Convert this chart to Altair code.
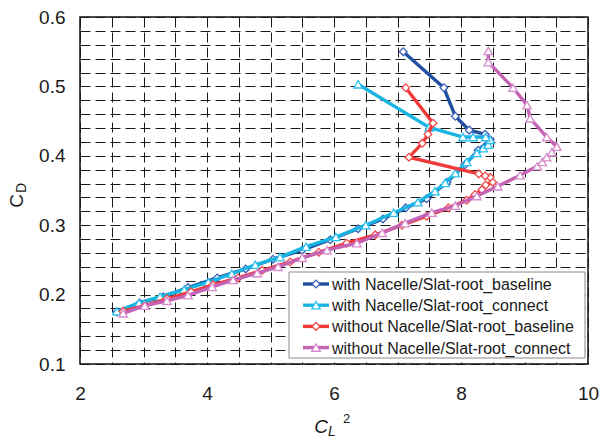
import altair as alt
import pandas as pd

series_names = [
    "with Nacelle/Slat-root_baseline",
    "with Nacelle/Slat-root_connect",
    "without Nacelle/Slat-root_baseline",
    "without Nacelle/Slat-root_connect",
]

blue_x = [2.58, 2.94, 3.31, 3.70, 4.16, 4.61, 5.04, 5.50, 5.94, 6.38, 6.77, 7.13, 7.46, 7.78, 8.06, 8.27, 8.46, 8.38, 8.13, 7.91, 7.73, 7.09]
blue_y = [0.175, 0.188, 0.197, 0.210, 0.224, 0.237, 0.251, 0.264, 0.279, 0.295, 0.309, 0.325, 0.338, 0.362, 0.387, 0.408, 0.423, 0.431, 0.437, 0.457, 0.498, 0.550]

cyan_x = [2.58, 2.93, 3.26, 3.64, 4.02, 4.39, 4.76, 5.15, 5.56, 6.03, 6.50, 6.94, 7.32, 7.59, 7.75, 7.91, 8.09, 8.25, 8.35, 8.43, 8.46, 8.39, 8.19, 8.03, 7.50, 6.38]
cyan_y = [0.176, 0.188, 0.197, 0.207, 0.218, 0.230, 0.243, 0.254, 0.269, 0.283, 0.300, 0.318, 0.333, 0.349, 0.361, 0.375, 0.391, 0.404, 0.411, 0.416, 0.423, 0.427, 0.427, 0.427, 0.441, 0.503]

red_x = [2.68, 3.02, 3.37, 3.75, 4.09, 4.49, 4.87, 5.31, 5.76, 6.20, 6.65, 7.07, 7.46, 7.80, 8.09, 8.22, 8.33, 8.39, 8.50, 8.46, 8.38, 8.28, 7.18, 7.39, 7.48, 7.56, 7.13]
red_y = [0.176, 0.184, 0.194, 0.204, 0.214, 0.224, 0.235, 0.247, 0.261, 0.274, 0.286, 0.300, 0.313, 0.325, 0.336, 0.344, 0.351, 0.358, 0.362, 0.369, 0.371, 0.374, 0.398, 0.418, 0.431, 0.447, 0.498]

mag_x = [2.68, 3.02, 3.37, 3.70, 4.08, 4.41, 4.79, 5.12, 5.50, 5.89, 6.36, 6.76, 7.12, 7.54, 7.91, 8.25, 8.58, 8.93, 9.20, 9.28, 9.35, 9.43, 9.51, 9.35, 9.09, 9.04, 8.82, 8.43, 8.43]
mag_y = [0.173, 0.184, 0.191, 0.199, 0.211, 0.221, 0.231, 0.240, 0.253, 0.264, 0.274, 0.289, 0.303, 0.318, 0.328, 0.342, 0.356, 0.372, 0.385, 0.391, 0.398, 0.405, 0.413, 0.427, 0.454, 0.473, 0.498, 0.535, 0.551]

xs = [blue_x, cyan_x, red_x, mag_x]
ys = [blue_y, cyan_y, red_y, mag_y]

line_colors = ["#2251a0", "#1ab4e2", "#f03a3a", "#c462b4"]
marker_colors = ["#3a60b8", "#2cc0ec", "#f24a4a", "#d68ccc"]
shapes = ["diamond", "triangle-up", "diamond", "triangle-up"]
sizes = [60, 72, 60, 72]

x_ticks = [2 + 0.5 * i for i in range(17)]
y_ticks = [round(0.1 + 0.02 * i, 2) for i in range(26)]

FONT = "Liberation Sans"
L, T = 80, 17  # plot origin offset (padding)

axis_common = dict(
    grid=True, gridDash=[10, 5], gridColor="#1a1a1a", gridWidth=1, gridOpacity=1,
    domain=False, ticks=False, tickSize=0, labelFont=FONT, labelFontSize=19,
    labelColor="#1a1a1a", title=None, labelFlush=False, labelOverlap=False,
)
X = alt.X("x:Q", scale=alt.Scale(domain=[2, 10], nice=False, zero=False),
          axis=alt.Axis(values=x_ticks,
                        labelExpr="datum.value % 2 === 0 ? format(datum.value, 'd') : ''",
                        labelPadding=20, **axis_common))
Y = alt.Y("y:Q", scale=alt.Scale(domain=[0.1, 0.6], nice=False, zero=False),
          axis=alt.Axis(values=y_ticks,
                        labelExpr="abs(datum.value*10 - round(datum.value*10)) < 0.001 ? format(datum.value, '.1f') : ''",
                        labelPadding=15, **axis_common))

layers = []
for k in range(4):
    df = pd.DataFrame({"x": xs[k], "y": ys[k], "i": list(range(len(xs[k])))})
    base = alt.Chart(df).encode(x=X, y=Y, order="i:Q")
    layers.append(base.mark_line(color=line_colors[k], strokeWidth=3.4))
    layers.append(base.mark_point(shape=shapes[k], filled=True, fill="white", stroke=marker_colors[k],
                                  strokeWidth=1.3, size=sizes[k], opacity=1))

one = pd.DataFrame({"a": [0]})

# legend box
layers.append(alt.Chart(one).mark_rect(fill="white", stroke="#8a8a8a", strokeWidth=1).encode(
    x=alt.value(289 - L), x2=alt.value(585 - L), y=alt.value(272 - T), y2=alt.value(358 - T)))
for k in range(4):
    yy = 284 + 21.2 * k - T
    layers.append(alt.Chart(one).mark_rule(color=line_colors[k], strokeWidth=3.4).encode(
        x=alt.value(303 - L), x2=alt.value(329 - L), y=alt.value(yy)))
    layers.append(alt.Chart(one).mark_point(shape=shapes[k], filled=True, fill="white", stroke=marker_colors[k],
                                            strokeWidth=1.3, size=sizes[k], opacity=1).encode(
        x=alt.value(316 - L), y=alt.value(yy)))
    layers.append(alt.Chart(pd.DataFrame({"name": [series_names[k]]})).mark_text(
        align="left", baseline="middle", font=FONT, fontSize=16, color="#1a1a1a").encode(
        x=alt.value(332 - L), y=alt.value(yy + 1), text="name:N"))

# axis titles
def txt(s, x, y, size, italic=False, angle=0):
    kw = dict(align="center", baseline="middle", font=FONT, fontSize=size, color="#1a1a1a", text=s)
    if italic:
        kw["fontStyle"] = "italic"
    if angle:
        kw["angle"] = angle
    return alt.Chart(one).mark_text(**kw).encode(x=alt.value(x - L), y=alt.value(y - T))

layers.append(txt("C", 321, 427, 19, italic=True))
layers.append(txt("L", 332, 432, 14, italic=True))
layers.append(txt("2", 346.5, 419, 13))
layers.append(txt("C", 17, 201, 19, angle=270))
layers.append(txt("D", 22, 188, 14, angle=270))

chart = alt.layer(*layers).properties(
    width=508, height=347,
    autosize=alt.AutoSizeParams(type="none"),
    padding={"left": L, "top": T, "right": 15, "bottom": 75},
).configure_view(stroke="#111111", strokeWidth=1.5)

chart.save("out.html", embed_options={"renderer": "svg", "actions": False})
